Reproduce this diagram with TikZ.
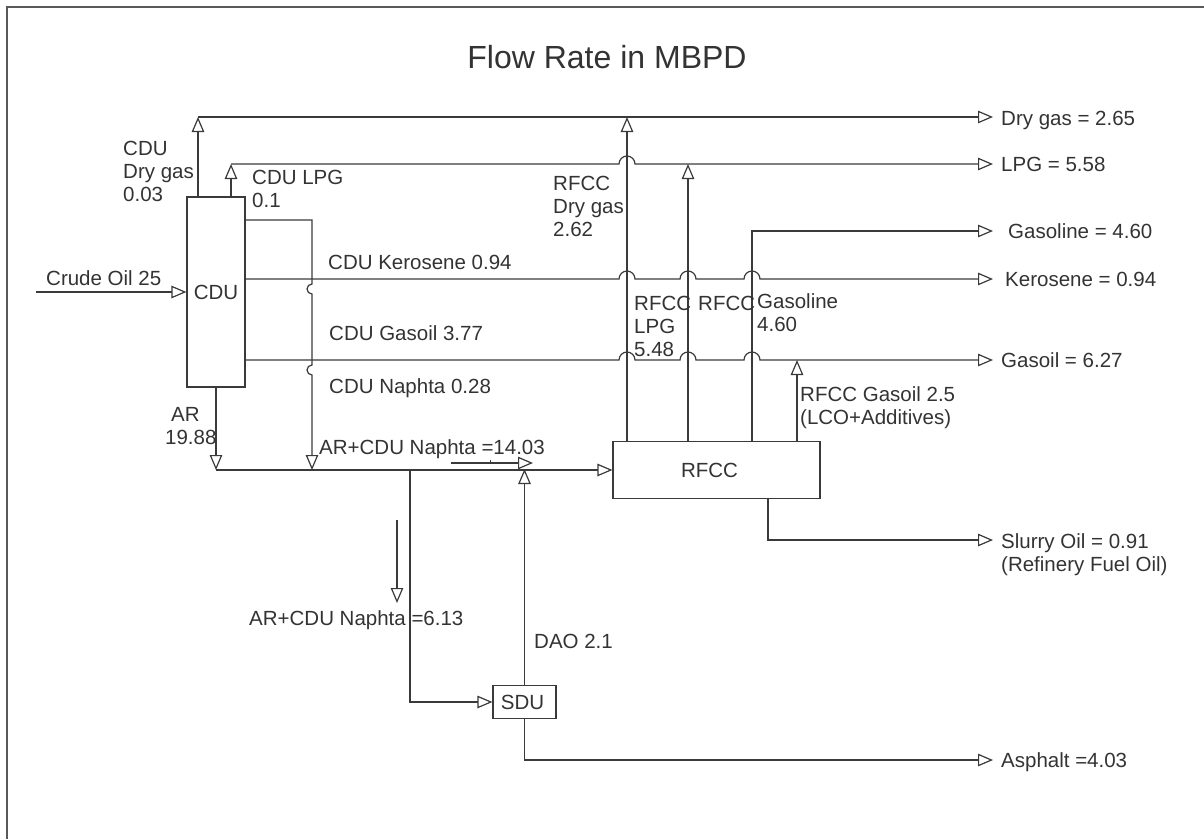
\documentclass[tikz,border=0pt]{standalone}
\usepackage{fontspec}
\setmainfont{Liberation Sans}
\usetikzlibrary{arrows.meta}
\definecolor{ink}{HTML}{333333}
\definecolor{lineink}{HTML}{3A3A3A}
\begin{document}
\begin{tikzpicture}[x=1pt,y=-1pt,
  pipe/.style={draw=lineink,line width=1.2pt},
  arr/.style={pipe,-{Triangle[open,fill=white,length=15pt,width=12.5pt,line width=1.2pt]}},
  box/.style={draw=lineink,line width=1.2pt,fill=white,inner sep=0pt,font=\fontsize{20.5}{23}\selectfont,text=ink},
  lbl/.style={anchor=north west,inner sep=0pt,align=left,text=ink,font=\fontsize{20.5}{23}\selectfont}]
\useasboundingbox (0,0) rectangle (1204,839);
% frame
\draw[draw=gray!70!black,line width=1.5pt] (7,839) -- (7,7) -- (1204,7);
% title
\node[inner sep=0pt,text=ink,font=\fontsize{32}{36}\selectfont] (title) at (607,57) {Flow Rate in MBPD};

% units
\node[box,minimum width=58pt,minimum height=190pt] (CDU) at (216,292) {CDU};
\node[box,minimum width=207pt,minimum height=57pt] (RFCC) at (716.5,470) {\hspace*{-14pt}RFCC};
\node[box,minimum width=63pt,minimum height=33pt] (SDU) at (524.5,702) {SDU\hspace*{4pt}};

% free ends / junctions
\coordinate (crude) at (36,292);
\coordinate (eDry) at (993,117);
\coordinate (eLPG) at (993,164);
\coordinate (eGsl) at (993,231);
\coordinate (eKer) at (993,279);
\coordinate (eGo) at (993,360);
\coordinate (eSl) at (993,540);
\coordinate (eAs) at (993,760);
\coordinate (dgJ) at (198,117);
\coordinate (lpgJ) at (231,164);
\coordinate (nJ) at (312,220);
\coordinate (arJ) at (216,470);
\coordinate (sdJ) at (410,470);
\coordinate (rdg) at (627,117);
\coordinate (rlpg) at (688,164);
\coordinate (rgas) at (752,231);
\coordinate (rgo) at (797,360);
\coordinate (rsl) at (768,540);
\coordinate (sa1) at (451,463);
\coordinate (sa2) at (533,463);
\coordinate (sb1) at (397,520);
\coordinate (sb2) at (397,603);

% crude feed
\draw[arr] (crude) -- (CDU.west);
% CDU dry gas and LPG
\draw[arr] (CDU.north -| dgJ) -- (dgJ);
\draw[arr] (dgJ) -- (eDry);
\draw[arr] (CDU.north -| lpgJ) -- (lpgJ);
\draw[arr] (lpgJ) -- ([xshift=-8pt]lpgJ -| rdg) arc[start angle=180,end angle=0,radius=8pt] -- (eLPG);
% kerosene
\draw[arr] (CDU.east |- eKer)
  -- ([xshift=-8pt]eKer -| rdg) arc[start angle=180,end angle=0,radius=8pt]
  -- ([xshift=-8pt]eKer -| rlpg) arc[start angle=180,end angle=0,radius=8pt]
  -- ([xshift=-8pt]eKer -| rgas) arc[start angle=180,end angle=0,radius=8pt]
  -- (eKer);
% gasoil
\draw[arr] (CDU.east |- eGo)
  -- ([xshift=-8pt]eGo -| rdg) arc[start angle=180,end angle=0,radius=8pt]
  -- ([xshift=-8pt]eGo -| rlpg) arc[start angle=180,end angle=0,radius=8pt]
  -- ([xshift=-8pt]eGo -| rgas) arc[start angle=180,end angle=0,radius=8pt]
  -- (eGo);
% CDU naphta
\draw[arr] (CDU.east |- nJ) -- (nJ)
  -- ([yshift=-5pt]nJ |- eKer) arc[start angle=90,end angle=270,radius=5pt]
  -- ([yshift=-5pt]nJ |- eGo) arc[start angle=90,end angle=270,radius=5pt]
  -- (nJ |- arJ);
% AR
\draw[arr] (CDU.south) -- (arJ);
% main feed line
\draw[arr] (arJ) -- (RFCC.west);
% to SDU
\draw[arr] (sdJ) -- (sdJ |- SDU.west) -- (SDU.west);
% DAO
\draw[arr] (SDU.north) -- ([yshift=1pt]SDU.north |- arJ);
% asphalt
\draw[arr] (SDU.south) -- (SDU.south |- eAs) -- (eAs);
% RFCC products
\draw[arr] (RFCC.north -| rdg) -- (rdg);
\draw[arr] (RFCC.north -| rlpg) -- (rlpg);
\draw[arr] (RFCC.north -| rgas) -- (rgas) -- (eGsl);
\draw[arr] (RFCC.north -| rgo) -- (rgo);
\draw[arr] (RFCC.south -| rsl) -- (rsl) -- (eSl);
% small flow-direction arrows
\draw[arr] (sa1) -- (sa2);
\draw[pipe,line width=0.8pt] ([xshift=39pt]sa1) -- ++(0,-3);
\draw[arr] (sb1) -- (sb2);

% labels
\node[lbl] (lCrude) at (46,270) {Crude Oil 25};
\node[lbl] (lCdg) at (123,140.5) {CDU\\Dry gas\\0.03};
\node[lbl] (lClpg) at (252,169.5) {CDU LPG\\0.1};
\node[lbl] (lCker) at (328,254.5) {CDU Kerosene 0.94};
\node[lbl] (lCgo) at (329,325.5) {CDU Gasoil 3.77};
\node[lbl] (lCna) at (329,378.5) {CDU Naphta 0.28};
\node[lbl] (lAR) at (165,407.5) {\hspace*{6pt}AR\\19.88};
\node[lbl] (lMix) at (319,439.5) {AR+CDU Naphta =14.03};
\node[lbl] (lRdg) at (553,175.5) {RFCC\\Dry gas\\2.62};
\node[lbl] (lRlpg) at (634,295.5) {RFCC\\LPG\\5.48};
\node[lbl] (lRgsl1) at (698,295.5) {RFCC};
\node[lbl] (lRgsl2) at (757,293.5) {Gasoline\\4.60};
\node[lbl] (lRgo) at (800,386.5) {RFCC Gasoil 2.5\\(LCO+Additives)};
\node[lbl] (lSdu) at (249,610.5) {AR+CDU Naphta =6.13};
\node[lbl] (lDao) at (534,633.5) {DAO 2.1};
\node[lbl] (oDry) at (1001,110.5) {Dry gas = 2.65};
\node[lbl] (oLPG) at (1001,156.5) {LPG = 5.58};
\node[lbl] (oGsl) at (1008,223.5) {Gasoline = 4.60};
\node[lbl] (oKer) at (1005,271.5) {Kerosene = 0.94};
\node[lbl] (oGo) at (1001,352.5) {Gasoil = 6.27};
\node[lbl] (oSl) at (1001,533.5) {Slurry Oil = 0.91\\(Refinery Fuel Oil)};
\node[lbl] (oAs) at (1001,752.5) {Asphalt =4.03};
\end{tikzpicture}
\end{document}
